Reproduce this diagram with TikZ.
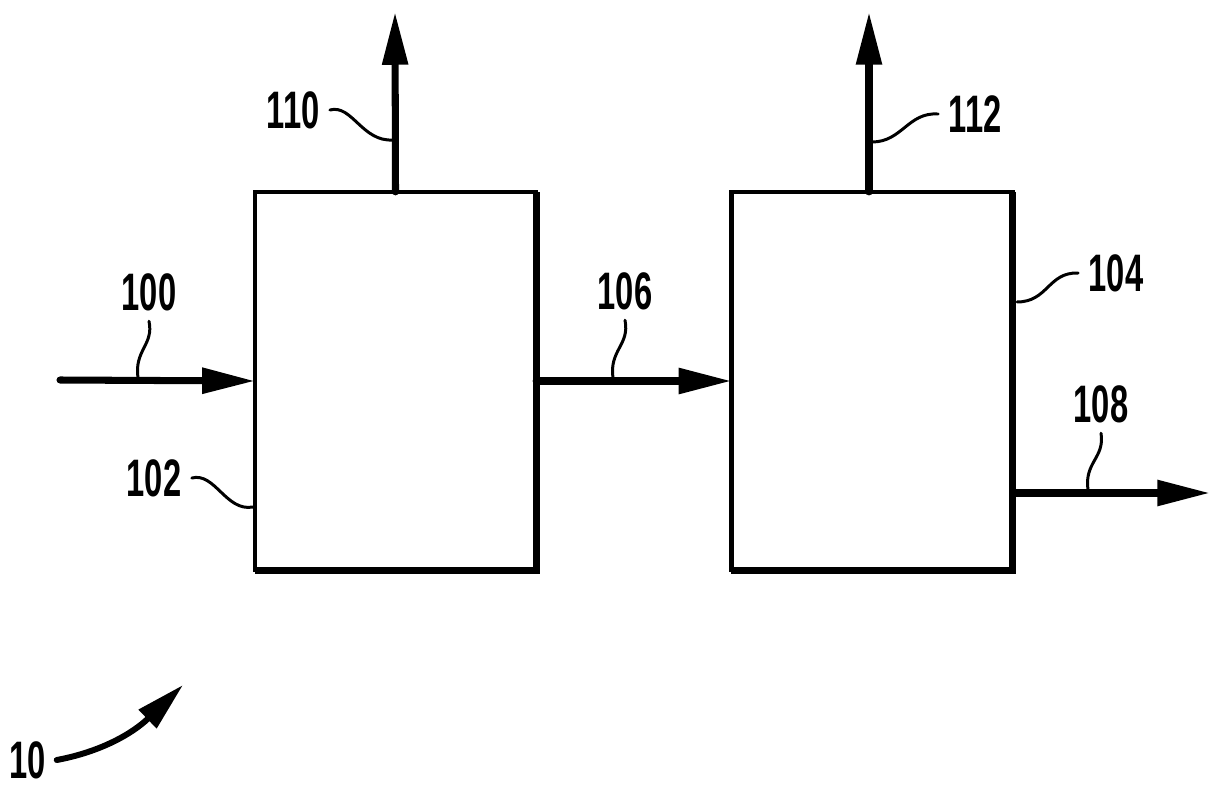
\documentclass[tikz,border=0pt]{standalone}
\usepackage{fontspec}
\usepackage{graphicx}
\setmainfont{Liberation Sans}
\usetikzlibrary{arrows.meta}
\newcommand{\numlab}[1]{\scalebox{0.62}[1]{\bfseries\fontsize{15pt}{15pt}\selectfont #1}}
\begin{document}
\begin{tikzpicture}[x=0.01cm,y=-0.01cm,
  box/.style={draw, line width=1.3pt, minimum width=2.81cm, minimum height=3.78cm, inner sep=0pt, outer sep=0pt},
  heavy/.style={line width=2pt},
  flow/.style={line width=2pt, line cap=round, -{Triangle[length=15pt,width=7pt]}},
  lead/.style={line width=0.85pt, line cap=round},
  lab/.style={inner sep=2.8pt}]
\useasboundingbox (0,0) rectangle (1221,794);
% boxes
\node[box] (b1) at (395.5,381) {};
\node[box] (b2) at (872,381) {};
\draw[heavy] (b1.north east) -- (b1.south east) -- (b1.south west);
\draw[heavy] (b2.north east) -- (b2.south east) -- (b2.south west);
% end coordinates
\coordinate (s100) at (60,380);
\coordinate (t110) at (395,12);
\coordinate (t112) at (869,12);
\coordinate (t108) at (1210,493);
% flows
\draw[flow] (s100) -- (b1.west);
\draw[flow] (b1.east) -- (b2.west);
\draw[flow] (b2.east |- t108) -- (t108);
\draw[flow] (b1.north) -- (t110);
\draw[flow] (b2.north -| t112) -- (t112);
% labels
\node[lab] (l110) at (293,110) {\numlab{110}};
\node[lab] (l112) at (975,114) {\numlab{112}};
\node[lab] (l100) at (149,292) {\numlab{100}};
\node[lab] (l102) at (154,478) {\numlab{102}};
\node[lab] (l106) at (625,291) {\numlab{106}};
\node[lab] (l104) at (1116,273) {\numlab{104}};
\node[lab] (l108) at (1101,404) {\numlab{108}};
\node[lab] (l10) at (28,760) {\numlab{10}};
% leader end points
\coordinate (c110) at (393,140);
\coordinate (c112) at (872,142);
\coordinate (c100) at (138,378);
\coordinate (c106) at (613,378);
\coordinate (c102) at (253,507);
\coordinate (c104) at (1017,302);
\coordinate (c108) at (1088,490);
% leaders
\draw[lead] (l110.east) .. controls (352,104) and (362,142) .. (c110);
\draw[lead] (c112) .. controls (902,142) and (908,112) .. (l112.west);
\draw[lead] (l100.south) .. controls (154,345) and (134,350) .. (c100);
\draw[lead] (l106.south) .. controls (630,345) and (609,350) .. (c106);
\draw[lead] (l108.south) .. controls (1105,458) and (1084,462) .. (c108);
\draw[lead] (l102.east) .. controls (215,472) and (226,512) .. (c102);
\draw[lead] (c104) .. controls (1048,302) and (1048,272) .. (l104.west);
% figure arrow
\coordinate (t10) at (183,685);
\draw[line width=1.7pt, line cap=round, -{Triangle[length=14pt,width=7pt]}] (l10.east) .. controls (100,752) and (132,734) .. (t10);
\end{tikzpicture}
\end{document}
